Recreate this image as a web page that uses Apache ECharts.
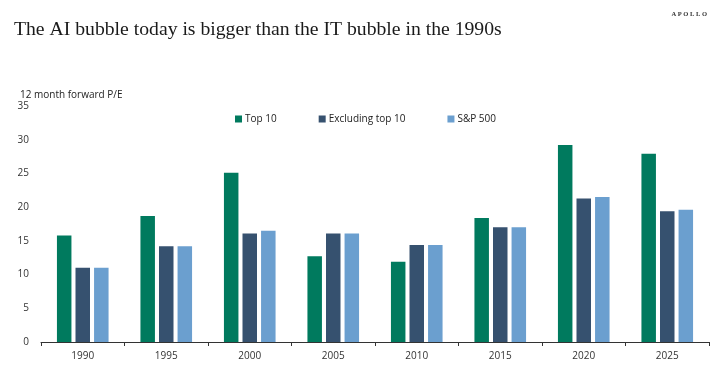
<!DOCTYPE html>
<html>
<head>
<meta charset="utf-8">
<script src="https://cdn.jsdelivr.net/npm/echarts@6/dist/echarts.min.js"></script>
<style>html,body{margin:0;padding:0;background:#fff}#c{width:720px;height:367px}</style>
</head>
<body>
<div id="c"></div>
<script>
const categories = ['1990','1995','2000','2005','2010','2015','2020','2025'];
const top10 = [15.8, 18.7, 25.1, 12.7, 11.9, 18.4, 29.2, 27.9];
const exTop10 = [11.0, 14.2, 16.1, 16.1, 14.4, 17.0, 21.3, 19.4];
const sp500 = [11.0, 14.2, 16.5, 16.1, 14.4, 17.0, 21.5, 19.6];
const seriesNames = ['Top 10', 'Excluding top 10', 'S&P 500'];
const colors = ['#007A5E', '#36516F', '#6B9FCF'];

const chart = echarts.init(document.getElementById('c'), null, {renderer: 'canvas'});
const font = '"Open Sans", "Noto Sans", sans-serif';
chart.setOption({
  animation: false,
  backgroundColor: '#fff',
  title: [{
    text: 'The AI bubble today is bigger than the IT bubble in the 1990s',
    left: 9, top: 15,
    textStyle: {fontFamily: '"Liberation Serif", "DejaVu Serif", serif', fontSize: 19.7, fontWeight: 'normal', color: '#1a1a1a'}
  }, {
    text: 'A P O L L O',
    right: 8, top: 6,
    textStyle: {fontFamily: '"Liberation Serif", serif', fontSize: 6.5, fontWeight: 'bold', color: '#333'}
  }],
  legend: {
    left: 230, top: 109,
    itemWidth: 7, itemHeight: 7, itemGap: 42,
    icon: 'rect',
    textStyle: {fontFamily: font, fontSize: 10, color: '#222', padding: [0,0,0,-2]},
    data: seriesNames
  },
  grid: {left: 41, right: 11, top: 106, bottom: 25, containLabel: false},
  xAxis: {
    type: 'category',
    data: categories,
    axisLine: {lineStyle: {color: '#333', width: 1}},
    axisTick: {show: true, length: 4, lineStyle: {color: '#333'}},
    axisLabel: {fontFamily: font, fontSize: 10, color: '#333', margin: 9}
  },
  yAxis: {
    type: 'value',
    min: 0, max: 35, interval: 5,
    name: '12 month forward P/E',
    nameLocation: 'end',
    nameGap: 6,
    nameTextStyle: {fontFamily: font, fontSize: 10, color: '#222', align: 'left', padding: [0,0,0,-21]},
    splitLine: {show: false},
    axisLine: {show: false},
    axisTick: {show: false},
    axisLabel: {fontFamily: font, fontSize: 10, color: '#333', margin: 12}
  },
  series: [top10, exTop10, sp500].map((d, i) => ({
    name: seriesNames[i],
    type: 'bar',
    data: d,
    barWidth: 14.5,
    barGap: '28%',
    itemStyle: {color: colors[i]}
  }))
});
</script>
</body>
</html>
